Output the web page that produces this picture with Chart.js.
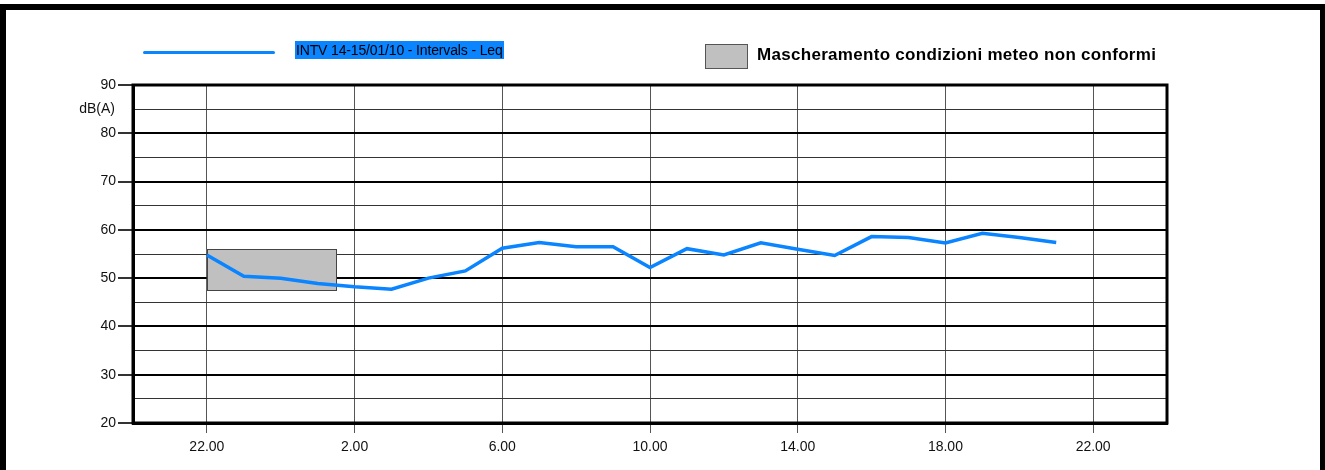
<!DOCTYPE html>
<html>
<head>
<meta charset="utf-8">
<script src="https://cdn.jsdelivr.net/npm/chart.js@4.4.0/dist/chart.umd.min.js"></script>
<style>
  html, body { margin: 0; padding: 0; background: #fff; }
  body { width: 1325px; height: 470px; position: relative; overflow: hidden; font-family: 'Liberation Sans', Arial, sans-serif; }
  .frame { position: absolute; left: 0; top: 4px; width: 1325px; height: 480px; box-sizing: border-box;
           border: 6px solid #000; border-right-width: 5px; border-bottom: none; }
  #chart { position: absolute; left: 0; top: 0; }
  .leg-line { position: absolute; left: 143px; top: 51px; width: 132px; height: 3px; background: #0a84ff; border-radius: 2px; }
  .leg-label { position: absolute; left: 295px; top: 41px; height: 18px; line-height: 18px; padding: 0 1px;
               background: #0a84ff; color: #000; font-size: 14px; letter-spacing: -0.15px; white-space: nowrap; }
  .leg-box { position: absolute; left: 705px; top: 44px; width: 41px; height: 23px; background: #c0c0c0; border: 1px solid #555; }
  .leg-mask { position: absolute; left: 757px; top: 45px; font-size: 17px; letter-spacing: 0.3px; font-weight: bold; color: #000; white-space: nowrap; }
</style>
</head>
<body>
<div class="frame"></div>
<canvas id="chart" width="1325" height="470"></canvas>
<div class="leg-line"></div>
<div class="leg-label">INTV 14-15/01/10 - Intervals - Leq</div>
<div class="leg-box"></div>
<div class="leg-mask">Mascheramento condizioni meteo non conformi</div>
<script>
/* --- Data --- */
const hourLabels = [22, 23, 0, 1, 2, 3, 4, 5, 6, 7, 8, 9, 10, 11, 12, 13, 14, 15, 16, 17, 18, 19, 20, 21];
const leqValues  = [54.8, 50.4, 50.0, 48.9, 48.2, 47.7, 50.0, 51.5, 56.2, 57.4, 56.5, 56.5,
                    52.2, 56.1, 54.8, 57.3, 56.0, 54.7, 58.6, 58.4, 57.3, 59.3, 58.4, 57.4];
const xTickHours = [22, 2, 6, 10, 14, 18, 22];
const yTicks = [20, 30, 40, 50, 60, 70, 80, 90];
// masked interval (weather not compliant): from 22:00 to 01:30, 47.5..56 dB(A)
const maskHours = [22, 1.5];
const maskLevels = [47.5, 56];

const startHour = 20;   // x axis starts at 20:00
const spanHours = 28;

// clock hours -> hours since start of axis, kept increasing across midnight
function toOffsets(hours) {
  let prev = -1;
  return hours.map(h => {
    let off = (h - startHour + 24) % 24;
    while (off < prev) off += 24;
    prev = off;
    return off;
  });
}

const xOffsets = toOffsets(hourLabels);
const points = xOffsets.map((x, i) => ({ x: x, y: leqValues[i] }));
const xTickOffsets = toOffsets(xTickHours);
const maskOffsets = toOffsets(maskHours);

/* --- Plugins --- */
const maskPlugin = {
  id: 'mask',
  beforeDatasetsDraw(chart) {
    const { ctx, scales: { x, y } } = chart;
    const x0 = x.getPixelForValue(maskOffsets[0]);
    const x1 = x.getPixelForValue(maskOffsets[1]);
    const y0 = y.getPixelForValue(maskLevels[1]);
    const y1 = y.getPixelForValue(maskLevels[0]);
    ctx.save();
    ctx.fillStyle = '#c0c0c0';
    ctx.fillRect(x0, y0, x1 - x0, y1 - y0);
    ctx.strokeStyle = '#444';
    ctx.lineWidth = 1;
    ctx.strokeRect(Math.round(x0) + 0.5, Math.round(y0) + 0.5, Math.round(x1 - x0), Math.round(y1 - y0));
    ctx.restore();
  }
};

const framePlugin = {
  id: 'frame',
  afterDraw(chart) {
    const { ctx, chartArea: a } = chart;
    ctx.save();
    ctx.strokeStyle = '#000';
    ctx.lineWidth = 3;
    ctx.strokeRect(a.left, a.top, a.right - a.left, a.bottom - a.top);
    ctx.fillStyle = '#111';
    ctx.font = '14px "Liberation Sans", Arial, sans-serif';
    ctx.textAlign = 'right';
    ctx.textBaseline = 'middle';
    ctx.fillText('dB(A)', 115, 109);
    ctx.restore();
  }
};

/* --- Chart --- */
new Chart(document.getElementById('chart'), {
  type: 'line',
  data: {
    datasets: [{
      data: points,
      borderColor: '#0a84ff',
      borderWidth: 3.5,
      pointRadius: 0,
      tension: 0,
      fill: false,
    }]
  },
  options: {
    responsive: false,
    devicePixelRatio: 1,
    animation: false,
    layout: { padding: { left: 0, right: 158, top: 85, bottom: 0 } },
    plugins: { legend: { display: false }, tooltip: { enabled: false } },
    scales: {
      x: {
        type: 'linear',
        min: 0,
        max: spanHours,
        afterBuildTicks: axis => { axis.ticks = xTickOffsets.map(v => ({ value: v })); },
        afterFit: scale => { scale.height = 47; },
        grid: { color: '#555', lineWidth: 1, tickLength: 10, tickColor: '#555' },
        border: { display: true, color: '#000', width: 3 },
        ticks: {
          autoSkip: false,
          maxRotation: 0,
          padding: 6,
          color: '#111',
          font: { family: "'Liberation Sans', Arial, sans-serif", size: 14 },
          callback: v => ((v + startHour) % 24) + '.00'
        }
      },
      y: {
        min: 20,
        max: 90,
        afterBuildTicks: axis => {
          const t = [];
          for (let v = 20; v <= 90; v += 5) t.push({ value: v });
          axis.ticks = t;
        },
        afterFit: scale => { scale.width = 133; },
        grid: {
          color: c => (c.tick && c.tick.value % 10 === 0) ? '#000' : '#333',
          lineWidth: c => (c.tick && c.tick.value % 10 === 0) ? 2 : 1,
          tickColor: c => (c.tick && c.tick.value % 10 === 0) ? '#333' : 'rgba(0,0,0,0)',
          tickLength: 15
        },
        border: { display: true, color: '#000', width: 3 },
        ticks: {
          autoSkip: false,
          padding: 2,
          color: '#111',
          font: { family: "'Liberation Sans', Arial, sans-serif", size: 14 },
          callback: v => yTicks.includes(v) ? String(v) : ''
        }
      }
    }
  },
  plugins: [maskPlugin, framePlugin]
});
</script>
</body>
</html>
